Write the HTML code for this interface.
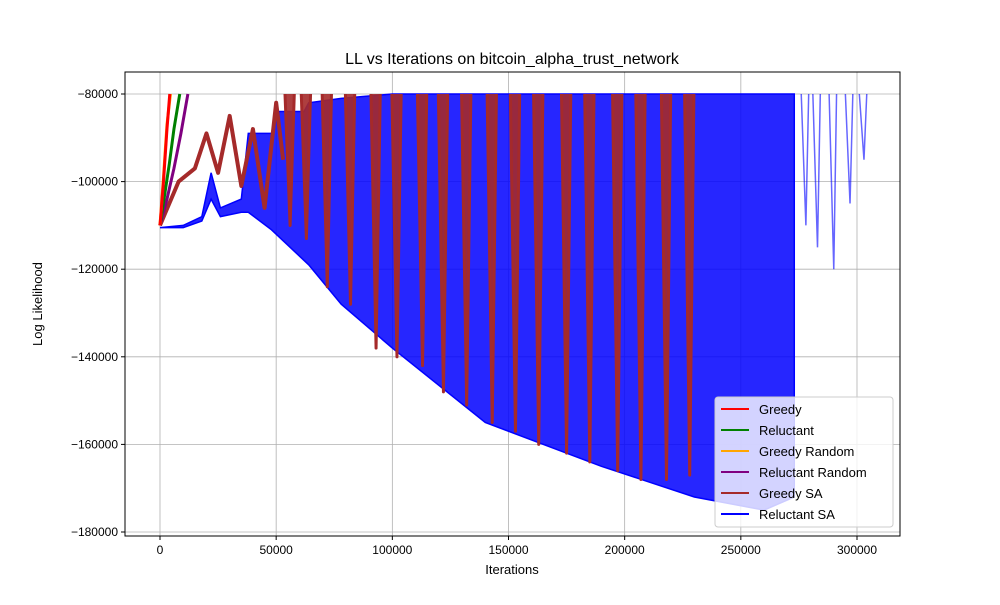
<!DOCTYPE html>
<html><head><meta charset="utf-8"><style>
body{margin:0;background:#fff;font-family:"Liberation Sans","DejaVu Sans",sans-serif}
</style></head><body>
<svg id="c" width="1000" height="600" xmlns="http://www.w3.org/2000/svg" font-family="Liberation Sans, DejaVu Sans, sans-serif"></svg>
<script>
// ---- data ----
const xTicks=[0,50000,100000,150000,200000,250000,300000];
const yTicks=[-80000,-100000,-120000,-140000,-160000,-180000];
const greedyIter=[0,1500,3000,4200];const greedyLL=[-110000,-100000,-88000,-80000];
const randIter=[0,1500,3000,4500];const randLL=[-110000,-99000,-87000,-80000];
const relIter=[0,2000,4000,6000,8500];const relLL=[-110000,-103000,-96000,-88000,-80000];
const relRandIter=[0,3000,6000,9000,12000];const relRandLL=[-110000,-104000,-97000,-89000,-80000];
// Reluctant SA envelope (upper and lower)
const rsaIter=[0,10000,18000,22000,26000,35000,38000,48000,50000,62000,64000,78000,100000,140000,190000,230000,260000,273000];
const rsaTop=[-110500,-110000,-108000,-98000,-106000,-104000,-89000,-89000,-84000,-84000,-82000,-81000,-80000,-80000,-80000,-80000,-80000,-80000];
const rsaBot=[-110500,-110500,-109000,-104000,-108000,-107000,-107000,-111000,-112000,-118000,-119000,-128000,-138000,-155000,-165000,-172000,-175000,-172000];
const rsaTailIter=[278000,283000,290000,297000,303000];
const rsaTailLow=[-110000,-115000,-120000,-105000,-95000];
// Greedy SA early continuous path
const gsaEarlyIter=[0,8000,15000,20000,25000,30000,35000,40000,45000,50000,53000];
const gsaEarlyLL=[-110000,-100000,-97000,-89000,-98000,-85000,-101000,-88000,-106000,-82000,-95000];
// Greedy SA later spikes (troughs)
const gsaSpikeIter=[56000,63000,72000,82000,93000,102000,113000,122000,132000,143000,153000,163000,175000,185000,197000,207000,218000,228000];
const gsaSpikeLL=[-110000,-113000,-124000,-128000,-138000,-140000,-142000,-148000,-151000,-155000,-157000,-160000,-162000,-164000,-166000,-168000,-168000,-167000];
// ---- drawing ----
const svg=document.getElementById('c');const NS='http://www.w3.org/2000/svg';
const L=125,R=900,T=72,B=536;
const X=v=>160+v*(857-160)/300000;
const Y=v=>94+(-80000-v)*(532-94)/100000;
function mk(t,a,p){const e=document.createElementNS(NS,t);for(const k in a)e.setAttribute(k,a[k]);(p||svg).appendChild(e);return e;}
const title=mk('text',{x:512,y:64,'text-anchor':'middle','font-size':16});title.textContent='LL vs Iterations on bitcoin_alpha_trust_network';


xTicks.forEach(v=>{const g=mk('line',{x1:X(v),x2:X(v),y1:T,y2:B,stroke:'#b0b0b0','stroke-width':0.8});


mk('line',{x1:X(v),x2:X(v),y1:B,y2:B+4,stroke:'#000'});
const t=mk('text',{x:X(v),y:B+18,'text-anchor':'middle','font-size':12});t.textContent=v;

});
yTicks.forEach(v=>{const g=mk('line',{x1:L,x2:R,y1:Y(v),y2:Y(v),stroke:'#b0b0b0','stroke-width':0.8});


mk('line',{x1:L-4,x2:L,y1:Y(v),y2:Y(v),stroke:'#000'});
const t=mk('text',{x:L-7,y:Y(v)+4,'text-anchor':'end','font-size':12});t.textContent='\u2212'+(-v);

});
// blue area
let pts=rsaIter.map((v,i)=>X(v)+','+Y(rsaTop[i]));
for(let i=rsaIter.length-1;i>=0;i--)pts.push(X(rsaIter[i])+','+Y(rsaBot[i]));
const area=mk('polygon',{points:pts.join(' '),fill:'#0000ff','fill-opacity':0.85,stroke:'#0000ff','stroke-width':1.5});


rsaTailIter.forEach((v,i)=>{const l=mk('polyline',{points:`${X(v-2000)},${Y(-80000)} ${X(v)},${Y(rsaTailLow[i])} ${X(v+1200)},${Y(-80000)}`,fill:'none',stroke:'#0000ff','stroke-opacity':0.6,'stroke-width':1.5});

});
const gsa=mk('polyline',{points:gsaEarlyIter.map((v,i)=>X(v)+','+Y(gsaEarlyLL[i])).join(' '),fill:'none',stroke:'#a52a2a','stroke-width':4,'stroke-linejoin':'round'});


gsaSpikeIter.forEach((v,i)=>{const s=mk('polyline',{points:`${X(v-2200)},${Y(-80000)} ${X(v)},${Y(gsaSpikeLL[i])} ${X(v+1800)},${Y(-80000)}`,fill:'#a52a2a','fill-opacity':0.9,stroke:'#a52a2a','stroke-width':3,'stroke-linejoin':'round'});

});
[[relRandIter,relRandLL,'purple','reluctant-random-series'],[relIter,relLL,'green','reluctant-series'],[randIter,randLL,'orange','greedy-random-series'],[greedyIter,greedyLL,'red','greedy-series']].forEach(s=>{
const l=mk('polyline',{points:s[0].map((v,i)=>X(v)+','+Y(s[1][i])).join(' '),fill:'none',stroke:s[2],'stroke-width':3});

});
const fr=mk('rect',{x:L,y:T,width:R-L,height:B-T,fill:'none',stroke:'#000','stroke-width':1});


const xl=mk('text',{x:512,y:574,'text-anchor':'middle','font-size':13});xl.textContent='Iterations';


const yl=mk('text',{x:42,y:304,'text-anchor':'middle','font-size':13,transform:'rotate(-90 42 304)'});yl.textContent='Log Likelihood';


const lg=mk('g',{});


mk('rect',{x:715,y:397,width:178,height:130,rx:3,fill:'#fff','fill-opacity':0.8,stroke:'#ccc'},lg);
const names=['Greedy','Reluctant','Greedy Random','Reluctant Random','Greedy SA','Reluctant SA'];
const cols=['red','green','orange','purple','brown','blue'];
names.forEach((n,i)=>{const y=409+i*21;
const ln=mk('line',{x1:721,x2:749,y1:y,y2:y,stroke:cols[i],'stroke-width':2},lg);


const t=mk('text',{x:759,y:y+5,'font-size':13},lg);t.textContent=n;

});
</script></body></html>
